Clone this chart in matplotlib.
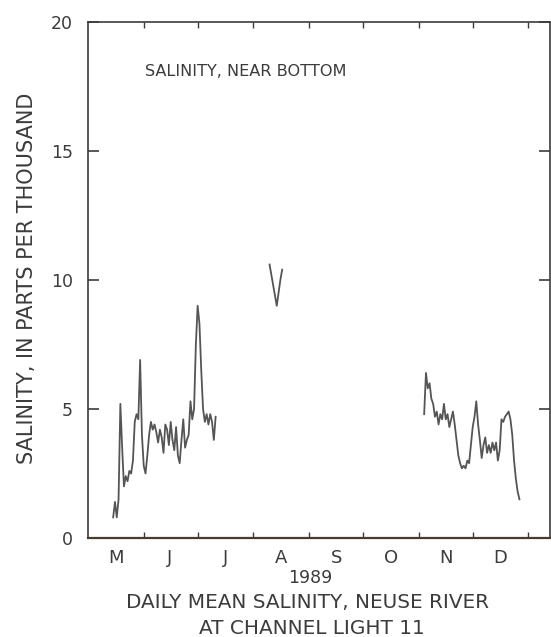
import numpy as np
import matplotlib
matplotlib.use('Agg')
import matplotlib.pyplot as plt

# days counted from May 1, 1989
month_starts = [31, 61, 92, 123, 153, 184, 214, 245]
month_mids = [15.5, 45.5, 76.5, 107.5, 138, 168.5, 199, 229.5]
month_labels = ['M', 'J', 'J', 'A', 'S', 'O', 'N', 'D']

# near-bottom salinity, three periods of record
days_1 = list(range(14, 72))
sal_1 = [0.8, 1.4, 0.8, 1.5, 5.2, 3.5, 2.0, 2.4, 2.2, 2.6,
         2.5, 3.0, 4.5, 4.8, 4.6, 6.9, 4.0, 2.8, 2.5, 3.2,
         4.0, 4.5, 4.2, 4.4, 4.1, 3.7, 4.2, 3.9, 3.3, 4.4,
         4.2, 3.6, 4.5, 3.8, 3.4, 4.3, 3.2, 2.9, 3.8, 4.6,
         3.5, 3.8, 4.0, 5.3, 4.6, 5.0, 7.5, 9.0, 8.3, 6.5,
         5.0, 4.5, 4.8, 4.4, 4.8, 4.5, 3.8, 4.7]

days_2 = list(range(101, 109))
sal_2 = [10.6, 10.2, 9.8, 9.4, 9.0, 9.5, 10.0, 10.4]

days_3 = list(range(187, 241))
sal_3 = [4.8, 6.4, 5.8, 6.0, 5.4, 5.2, 4.7, 4.9, 4.4, 4.8,
         4.6, 5.2, 4.6, 4.8, 4.3, 4.6, 4.9, 4.4, 3.8, 3.2,
         2.9, 2.7, 2.8, 2.7, 3.0, 2.9, 3.6, 4.3, 4.7, 5.3,
         4.4, 3.8, 3.1, 3.6, 3.9, 3.3, 3.6, 3.3, 3.7, 3.4,
         3.7, 3.0, 3.4, 4.6, 4.5, 4.7, 4.8, 4.9, 4.6, 4.0,
         3.0, 2.3, 1.8, 1.5]

plt.rcParams['font.family'] = ['DejaVu Sans']
ink = '#3c3c3c'

fig = plt.figure(figsize=(5.51, 6.37), dpi=100)
ax = fig.add_axes([88/551, 99/637, 462/551, 516/637])

for d, s in [(days_1, sal_1), (days_2, sal_2), (days_3, sal_3)]:
    ax.plot(d, s, color='#555555', lw=1.3)

ax.set_xlim(0, 257)
ax.set_ylim(0, 20)

ax.set_xticks(month_starts)
ax.set_xticklabels([])
ax.set_xticks(month_mids, minor=True)
ax.set_xticklabels(month_labels, minor=True)
ax.tick_params(axis='x', which='major', direction='in', length=4, width=1,
               top=True, bottom=True, color=ink)
ax.tick_params(axis='x', which='minor', length=0, pad=8, labelsize=13,
               labelcolor=ink)

ax.set_yticks([0, 5, 10, 15, 20])
ax.tick_params(axis='y', direction='in', length=8, width=1.2,
               left=True, right=True, color=ink, labelsize=12.5,
               labelcolor=ink, pad=11)

for sp in ax.spines.values():
    sp.set_color(ink)
    sp.set_linewidth(1.2)
ax.spines['bottom'].set_color('#4a3c2c')
ax.spines['bottom'].set_linewidth(1.6)

ax.text(57/462, 466/516, 'SALINITY, NEAR BOTTOM', transform=ax.transAxes,
        fontsize=11.6, color=ink, va='center', ha='left')

fig.text(27/551, 1 - 278/637, 'SALINITY, IN PARTS PER THOUSAND',
         rotation=90, fontsize=15, color=ink, ha='center', va='center')
fig.text(310/551, 1 - 578/637, '1989', fontsize=12.5, color=ink,
         ha='center', va='center')
fig.text(308/551, 1 - 602/637, 'DAILY MEAN SALINITY, NEUSE RIVER',
         fontsize=14.4, color=ink, ha='center', va='center')
fig.text(312/551, 1 - 628/637, 'AT CHANNEL LIGHT 11',
         fontsize=14.4, color=ink, ha='center', va='center')

fig.savefig('out.png', dpi=100, facecolor='white')
